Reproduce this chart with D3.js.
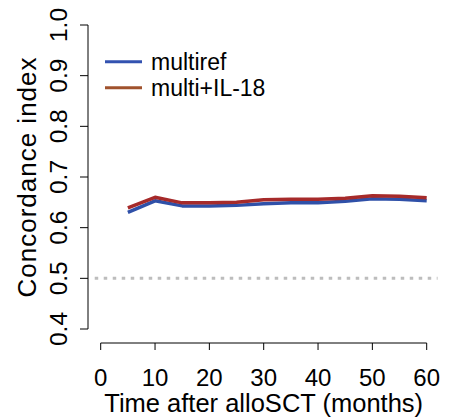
<!DOCTYPE html>
<html><head><meta charset="utf-8">
<script src="https://cdn.jsdelivr.net/npm/d3@7"></script>
<style>body{margin:0;background:#fff}text{font-family:"Liberation Sans",Arial,sans-serif;fill:#000}</style>
</head><body><svg id="c" width="456" height="417"></svg>
<script>
const months = [5,10,15,20,25,30,35,40,45,50,55,60];
const multiref = [0.630,0.653,0.643,0.643,0.644,0.647,0.649,0.649,0.652,0.657,0.656,0.653];
const multiIL18 = [0.639,0.660,0.649,0.649,0.650,0.655,0.656,0.656,0.658,0.663,0.662,0.659];
const xTicks = [0,10,20,30,40,50,60];
const yTicks = [0.4,0.5,0.6,0.7,0.8,0.9,1.0];
const seriesNames = ["multiref","multi+IL-18"];
const lineColors = ["#2f50a8","#a62a2a"];
const legendColors = ["#3352b0","#a0522d"];
const refLevel = 0.5;

const svg = d3.select("#c");
const x = d3.scaleLinear().domain([0,60]).range([100.7,426.7]);
const y = d3.scaleLinear().domain([0.4,1.0]).range([329,25]);
const fs = 24.5;

// y axis
const ya = svg.append("g").attr("transform","translate(88,0)");
ya.append("line").attr("y1",y(0.4)).attr("y2",y(1.0)).attr("stroke","#000").attr("stroke-width",1);
yTicks.forEach(t=>{
  ya.append("line").attr("x1",0).attr("x2",-8).attr("y1",y(t)).attr("y2",y(t)).attr("stroke","#000");
  ya.append("text").attr("transform",`translate(-21.5,${y(t)}) rotate(-90)`).attr("text-anchor","middle")
    .attr("font-size",fs).text(t.toFixed(1));
});
// x axis
const xa = svg.append("g").attr("transform","translate(0,343)");
xa.append("line").attr("x1",x(0)).attr("x2",x(60)).attr("stroke","#000");
xTicks.forEach(t=>{
  xa.append("line").attr("x1",x(t)).attr("x2",x(t)).attr("y1",0).attr("y2",7).attr("stroke","#000");
  xa.append("text").attr("x",x(t)).attr("y",42.5).attr("text-anchor","middle").attr("font-size",24).text(t);
});
svg.append("text").attr("x",(x(0)+x(60))/2).attr("y",412).attr("text-anchor","middle").attr("font-size",25.5)
  .text("Time after alloSCT (months)");
svg.append("text").attr("transform",`translate(36,${(y(0.4)+y(1.0))/2}) rotate(-90)`).attr("text-anchor","middle")
  .attr("font-size",26).attr("letter-spacing",1).text("Concordance index");

// reference line
svg.append("line").attr("x1",x(-1.1)).attr("x2",x(62)).attr("y1",y(refLevel)).attr("y2",y(refLevel))
  .attr("stroke","#bdbdbd").attr("stroke-width",3).attr("stroke-dasharray","3.5 5.5");

const line = d3.line().x((d,i)=>x(months[i])).y(d=>y(d));
[multiref,multiIL18].forEach((s,k)=>{
  svg.append("path").attr("d",line(s)).attr("fill","none").attr("stroke",lineColors[k])
    .attr("stroke-width",3.5).attr("stroke-linejoin","round");
});

// legend
seriesNames.forEach((n,k)=>{
  const ly = 61.7 + k*26;
  svg.append("line").attr("x1",105).attr("x2",142).attr("y1",ly).attr("y2",ly)
    .attr("stroke",legendColors[k]).attr("stroke-width",3);
  svg.append("text").attr("x",151).attr("y",ly).attr("dy","0.35em").attr("font-size",23).text(n);
});
</script></body></html>
